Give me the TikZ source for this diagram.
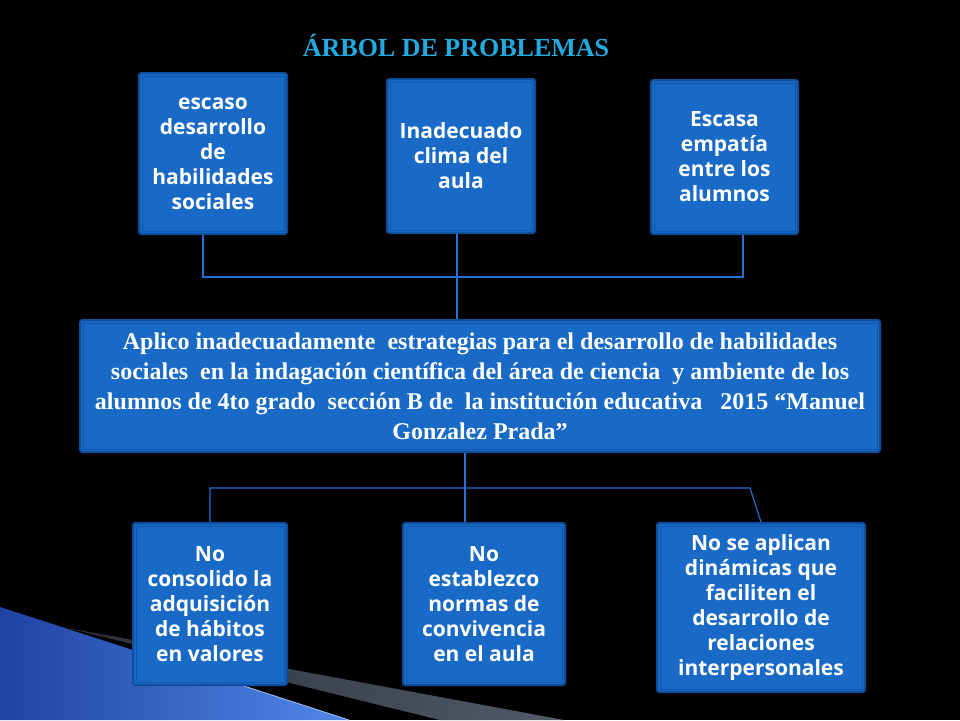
\documentclass[tikz,border=0pt]{standalone}
\usepackage{fontspec}
\setmainfont{Liberation Serif}
\newfontfamily\boxfont{Open Sans}
\usetikzlibrary{calc}
\definecolor{boxfill}{RGB}{24,106,198}
\definecolor{boxedge}{RGB}{14,78,158}
\definecolor{boxinner}{RGB}{17,88,172}
\definecolor{linkcol}{RGB}{38,112,215}
\definecolor{titlecol}{RGB}{35,170,225}
\definecolor{greyband}{RGB}{82,90,106}
\definecolor{wedgedark}{RGB}{30,68,165}
\definecolor{wedgelight}{RGB}{82,135,232}
\definecolor{wedgeedge}{RGB}{160,195,250}
\tikzset{
  pbox/.style={draw=boxedge, line width=2pt, fill=boxfill, rounded corners=2.5pt,
    inner sep=0pt, align=center, text=white,
    font={\boxfont\bfseries\fontsize{21}{25}\selectfont}},
  mbox/.style={pbox, font={\bfseries\fontsize{24}{30}\selectfont}},
  innerline/.style={draw=boxinner, line width=0.8pt},
  link/.style={draw=linkcol, line width=1.1pt},
}
\begin{document}
\begin{tikzpicture}[x=1pt,y=1pt]
\useasboundingbox (0,0) rectangle (960,-720);
\fill[black] (0,0) rectangle (960,-720);
% decoration bottom-left
\shade[left color=greyband!50!black, right color=greyband]
  (63,-627) -- (564,-720) -- (440,-720) -- cycle;
\shade[left color=wedgedark, right color=wedgelight]
  (0,-607) -- (349,-720) -- (0,-720) -- cycle;
\draw[wedgeedge, line width=0.8pt] (200,-671.8) -- (349,-720);
% title
\node[text=titlecol, font={\bfseries\fontsize{26}{30}\selectfont}] (title) at (456,-45) {ÁRBOL DE PROBLEMAS};
% top boxes
\node[pbox, minimum width=148pt, minimum height=161pt] (t1) at (213,-153.5)
  {escaso\\desarrollo\\de\\habilidades\\sociales};
\node[pbox, minimum width=148pt, minimum height=154pt] (t2) at (461,-156)
  {Inadecuado\\clima del\\aula};
\node[pbox, minimum width=147pt, minimum height=154pt] (t3) at (724.5,-157)
  {Escasa\\empatía\\entre los\\alumnos};
% main box
\node[mbox, minimum width=800pt, minimum height=132pt] (m) at (480,-386)
  {Aplico inadecuadamente\ \ estrategias para el desarrollo de habilidades\\
   sociales\ \ en la indagación científica del área de ciencia\ \ y ambiente de los\\
   alumnos de 4to grado\ \ sección B de\ \ la institución educativa\ \ \ 2015 “Manuel\\
   Gonzalez Prada”};
% bottom boxes
\node[pbox, minimum width=154pt, minimum height=162pt] (b1) at (210,-604)
  {No\\consolido la\\adquisición\\de hábitos\\en valores};
\node[pbox, minimum width=162pt, minimum height=162pt] (b2) at (484,-604)
  {No\\establezco\\normas de\\convivencia\\en el aula};
\node[pbox, minimum width=208pt, minimum height=169pt] (b3) at (761,-607.5)
  {No se aplican\\dinámicas que\\faciliten el\\desarrollo de\\relaciones\\interpersonales};
% inner lines
\foreach \n in {t1,t2,t3,m,b1,b2,b3}
  \draw[innerline] ([shift={(4pt,-4pt)}]\n.north west) rectangle ([shift={(-4pt,4pt)}]\n.south east);
% connectors
\coordinate (jt) at (457,-277);
\coordinate (jb) at (465,-488);
\coordinate (jc) at (750,-488);
\draw[link] ([xshift=-10pt]t1.south) |- (jt) -| ([xshift=18.5pt]t3.south);
\draw[link] ([xshift=-4pt]t2.south) -- ([xshift=-4pt]t2.south |- m.north);
\draw[link] ([xshift=-15pt]m.south) -- ([xshift=-15pt]m.south |- b2.north);
\draw[link] (b1.north) |- (jb) -- (jc) -- (b3.north);
\end{tikzpicture}
\end{document}
